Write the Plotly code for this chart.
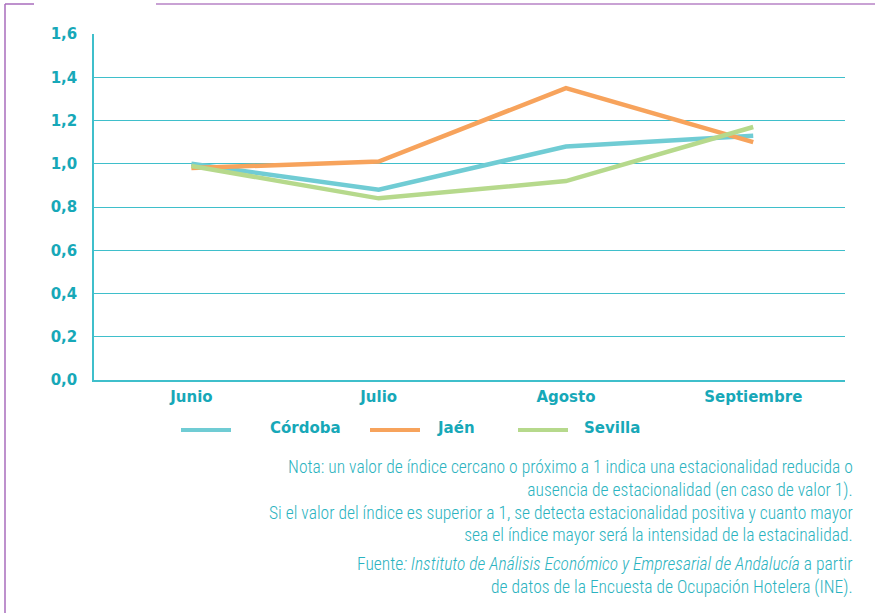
import plotly.graph_objects as go

months = ["Junio", "Julio", "Agosto", "Septiembre"]
cordoba = [1.00, 0.88, 1.08, 1.13]
jaen = [0.98, 1.01, 1.35, 1.10]
sevilla = [0.99, 0.84, 0.92, 1.17]
series_names = ["Córdoba", "Jaén", "Sevilla"]
series_colors = ["#70ccd4", "#f7a35c", "#b6d98c"]
y_ticks = [0.0, 0.2, 0.4, 0.6, 0.8, 1.0, 1.2, 1.4, 1.6]

TEXT = "#17a8b8"
GRID = "#3fbfcb"
NOTE = "#2bb3c0"
PURPLE = "#a86cbd"
LABEL_FONT = "DejaVu Sans"
LABEL_WEIGHT = "bold"

W, H = 875, 613
L, R, T, B = 94, 30, 34, 233
PW, PH = W - L - R, H - T - B

fig = go.Figure()
for name, vals, col in zip(series_names, [cordoba, jaen, sevilla], series_colors):
    fig.add_trace(go.Scatter(x=list(range(len(months))), y=vals, name=name, mode="lines",
                             line=dict(color=col, width=4.5), showlegend=False))

lab_font = dict(family=LABEL_FONT, size=15, color=TEXT, weight=LABEL_WEIGHT)

fig.update_layout(
    width=W, height=H,
    margin=dict(l=L, r=R, t=T, b=B, autoexpand=False),
    paper_bgcolor="white", plot_bgcolor="white",
    separators=", ",
    font=dict(family=LABEL_FONT, color=TEXT, size=15),
)
fig.update_xaxes(
    range=[-0.52, 3.49], tickmode="array", tickvals=list(range(len(months))), ticktext=months,
    showgrid=False, showline=True, linecolor=GRID, linewidth=1.5, ticks="",
    tickfont=lab_font, ticklabelstandoff=2, zeroline=False,
)
fig.update_yaxes(
    range=[0, 1.6], tickmode="array", tickvals=y_ticks, tickformat=".1f",
    showgrid=True, gridcolor=GRID, gridwidth=1, showline=True, linecolor=GRID, linewidth=1.5,
    ticks="", tickfont=lab_font, ticklabelstandoff=12, zeroline=False,
)


def px(x):
    return (x - L) / PW


def py(y):
    return (H - B - y) / PH


# Page frame (purple)
fig.add_shape(type="line", xref="paper", yref="paper", x0=px(5), x1=px(5), y0=py(4), y1=py(613),
              line=dict(color=PURPLE, width=1.5))
fig.add_shape(type="line", xref="paper", yref="paper", x0=px(5), x1=px(34), y0=py(4), y1=py(4),
              line=dict(color=PURPLE, width=1.5))
fig.add_shape(type="line", xref="paper", yref="paper", x0=px(156), x1=px(875), y0=py(4), y1=py(4),
              line=dict(color="#c9a2d4", width=2))

# Custom legend
leg_x = [181, 370, 518]
text_x = [268, 435, 582]
for i, (name, col) in enumerate(zip(series_names, series_colors)):
    fig.add_shape(type="line", xref="paper", yref="paper", x0=px(leg_x[i]), x1=px(leg_x[i] + 50),
                  y0=py(430), y1=py(430), line=dict(color=col, width=4))
    fig.add_annotation(xref="paper", yref="paper", x=px(text_x[i]), y=py(428), text=name,
                       showarrow=False, xanchor="left", yanchor="middle", font=lab_font)

note_font = dict(family="Roboto Condensed, Liberation Sans Narrow, Roboto, sans-serif",
                 size=17.5, color=NOTE, weight=300)
note = ("Nota: un valor de índice cercano o próximo a 1 indica una estacionalidad reducida o<br>"
        "ausencia de estacionalidad (en caso de valor 1).<br>"
        "Si el valor del índice es superior a 1, se detecta estacionalidad positiva y cuanto mayor<br>"
        "sea el índice mayor será la intensidad de la estacinalidad.")
fig.add_annotation(xref="paper", yref="paper", x=px(855), y=py(455), text=note, showarrow=False,
                   xanchor="right", yanchor="top", align="right", font=note_font)
fuente = ("Fuente<i>: Instituto de Análisis Económico y Empresarial de Andalucía</i> a partir<br>"
          "de datos de la Encuesta de Ocupación Hotelera (INE).")
fig.add_annotation(xref="paper", yref="paper", x=px(855), y=py(552), text=fuente, showarrow=False,
                   xanchor="right", yanchor="top", align="right", font=note_font)

fig.write_html("out.html", config={"displayModeBar": False},
               post_script="document.body.style.margin='0px';")
